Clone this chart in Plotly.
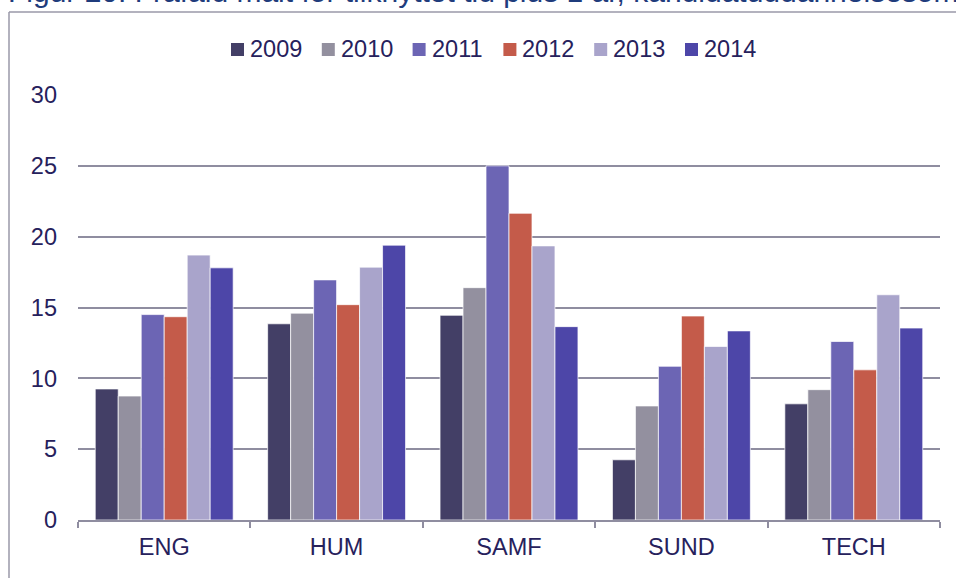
import plotly.graph_objects as go

categories = ["ENG", "HUM", "SAMF", "SUND", "TECH"]
years = ["2009", "2010", "2011", "2012", "2013", "2014"]
values = {
    "2009": [9.25, 13.85, 14.45, 4.25, 8.2],
    "2010": [8.75, 14.6, 16.4, 8.05, 9.2],
    "2011": [14.5, 16.95, 25.0, 10.85, 12.6],
    "2012": [14.35, 15.2, 21.65, 14.4, 10.6],
    "2013": [18.7, 17.85, 19.35, 12.25, 15.9],
    "2014": [17.8, 19.4, 13.65, 13.35, 13.55],
}
colors = {
    "2009": "#433F66",
    "2010": "#93909F",
    "2011": "#6C65B4",
    "2012": "#C45B4A",
    "2013": "#A9A4CB",
    "2014": "#4D46A8",
}
y_ticks = [0, 5, 10, 15, 20, 25, 30]
title_text = "Figur 20: Frafald målt for tilknyttet tid plus 1 år, kandidatuddannelsesområder"

W, H = 956, 578
# plot area in screen pixels: x 78..940, y 95..520
ML, MR, MT, MB = 78, 956 - 940, 95, 578 - 520
PW = W - ML - MR
PH = H - MT - MB

TXT = "#26215C"
GRID = "#8F8DA0"
FRAME = "#9A98A8"
FONT = "Liberation Sans, Arial, sans-serif"
FS = 23.5

fig = go.Figure()
for yr in years:
    fig.add_trace(go.Bar(
        name=yr, x=categories, y=values[yr],
        marker=dict(color=colors[yr], line=dict(color="rgba(255,255,255,0.7)", width=1)),
        showlegend=False,
    ))

def px_x(p):  # pixel -> paper x
    return (p - ML) / PW

def px_y(p):  # pixel -> paper y
    return 1 - (p - MT) / PH

shapes = [
    dict(type="line", xref="paper", yref="paper",
         x0=px_x(9), x1=px_x(9), y0=px_y(12), y1=px_y(600),
         line=dict(color=FRAME, width=1.5)),
    dict(type="line", xref="paper", yref="paper",
         x0=px_x(9), x1=px_x(980), y0=px_y(12), y1=px_y(12),
         line=dict(color=FRAME, width=1.5)),
]
annotations = [
    dict(text=title_text, xref="paper", yref="paper",
         x=px_x(6), xanchor="left", y=px_y(10), yanchor="bottom",
         showarrow=False, font=dict(family=FONT, size=30, color="#1F3C7C")),
]

# legend (key squares + labels) laid out in a row like the original
LEG_X0, LEG_PITCH, LEG_SQ = 231, 90.8, 13
for i, yr in enumerate(years):
    x0 = LEG_X0 + i * LEG_PITCH
    shapes.append(dict(type="rect", xref="paper", yref="paper",
                       x0=px_x(x0), x1=px_x(x0 + LEG_SQ),
                       y0=px_y(43), y1=px_y(43 + LEG_SQ),
                       fillcolor=colors[yr], line=dict(width=0)))
    annotations.append(dict(text=yr, xref="paper", yref="paper",
                            x=px_x(x0 + 17), xanchor="left",
                            y=px_y(49), yanchor="middle", showarrow=False,
                            font=dict(family=FONT, size=FS, color=TXT)))

fig.update_layout(
    width=W, height=H,
    margin=dict(l=ML, r=MR, t=MT, b=MB),
    paper_bgcolor="white", plot_bgcolor="white",
    barmode="group", bargap=0.2, bargroupgap=0,
    font=dict(family=FONT, size=FS, color=TXT),
    showlegend=False,
    xaxis=dict(
        showline=True, linecolor=GRID, linewidth=2,
        ticks="outside", tickson="boundaries", ticklen=6, tickcolor=GRID, tickwidth=2,
        showgrid=False, ticklabelstandoff=5,
        tickfont=dict(size=FS, color=TXT),
    ),
    yaxis=dict(
        range=[0, 30], tickvals=y_ticks, ticktext=[str(v) for v in y_ticks],
        showgrid=True, gridcolor=GRID, gridwidth=2,
        zeroline=False, showline=False, ticks="",
        ticklabelstandoff=20,
        tickfont=dict(size=FS, color=TXT),
    ),
    shapes=shapes,
    annotations=annotations,
)

fig.write_html("out.html", config={"displayModeBar": False},
               post_script="document.body.style.margin='0';")
